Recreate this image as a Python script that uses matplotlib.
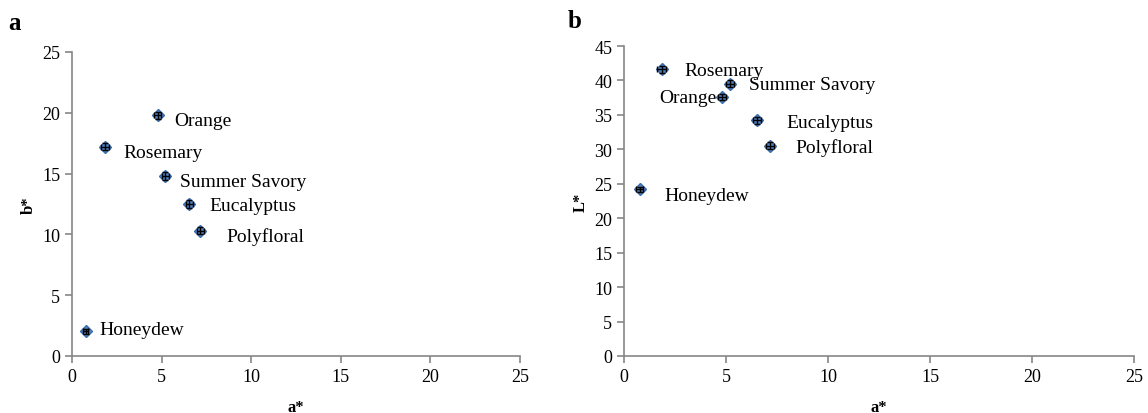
import matplotlib
matplotlib.use("Agg")
import matplotlib.pyplot as plt

plt.rcParams['font.family'] = ['Liberation Serif', 'DejaVu Serif']

honeys = ["Orange", "Rosemary", "Summer Savory", "Eucalyptus", "Polyfloral", "Honeydew"]
a_star = [4.79, 1.84, 5.2, 6.54, 7.15, 0.76]
b_star = [19.8, 17.2, 14.8, 12.5, 10.3, 2.03]
L_star = [37.6, 41.6, 39.5, 34.2, 30.5, 24.2]
a_err = [0.2, 0.2, 0.2, 0.2, 0.2, 0.15]
b_err = [0.3, 0.3, 0.3, 0.3, 0.3, 0.2]
L_err = [0.5, 0.5, 0.5, 0.5, 0.5, 0.4]

# label offsets in pixels (dx, dy) relative to points, per panel
off_a = {"Orange": (16, -5), "Rosemary": (18, -6), "Summer Savory": (15, -5),
         "Eucalyptus": (20, -2), "Polyfloral": (26, -5), "Honeydew": (14, 2)}
off_b = {"Orange": (-5, -1), "Rosemary": (23, -1), "Summer Savory": (19, -1),
         "Eucalyptus": (29, -2), "Polyfloral": (26, -1), "Honeydew": (25, -6)}

W, H = 1148, 414
fig = plt.figure(figsize=(W / 100, H / 100), dpi=100)

ax1 = fig.add_axes([72 / W, (H - 357) / H, (520 - 72) / W, (357 - 53) / H])
ax2 = fig.add_axes([624 / W, (H - 357) / H, (1134 - 624) / W, (357 - 47) / H])

grey = '#868686'
fs = 13

def style(ax, ymax, ystep):
    ax.set_xlim(0, 25)
    ax.set_ylim(0, ymax)
    ax.set_xticks(range(0, 26, 5))
    ax.set_yticks(range(0, ymax + 1, ystep))
    for s in ['top', 'right']:
        ax.spines[s].set_visible(False)
    for s in ['left', 'bottom']:
        ax.spines[s].set_color(grey)
        ax.spines[s].set_linewidth(1.2)
    ax.tick_params(direction='out', color=grey, width=1.2, length=5,
                   labelsize=fs, labelcolor='black')

def draw(ax, ys, yerr, offs):
    ax.plot(a_star, ys, 'D', ms=6.5, mfc='#4F81BD', mec='#3A6EAD', mew=1.0,
            zorder=3, clip_on=False)
    ax.errorbar(a_star, ys, xerr=a_err, yerr=yerr, fmt='none',
                ecolor='black', elinewidth=1.0, capsize=2.2, capthick=1.0,
                zorder=4, clip_on=False)
    for name, x, y in zip(honeys, a_star, ys):
        dx, dy = offs[name]
        ha = 'right' if dx < 0 else 'left'
        ax.annotate(name, (x, y), xytext=(dx, dy), textcoords='offset pixels',
                    ha=ha, va='center', fontsize=fs + 1)

style(ax1, 25, 5)
style(ax2, 45, 5)
draw(ax1, b_star, b_err, off_a)
draw(ax2, L_star, L_err, off_b)

ax1.set_xlabel('a*', fontsize=12, fontweight='bold', labelpad=10)
ax1.set_ylabel('b*', fontsize=12, fontweight='bold', labelpad=4)
ax2.set_xlabel('a*', fontsize=12, fontweight='bold', labelpad=10)
ax2.set_ylabel('L*', fontsize=12, fontweight='bold', labelpad=4)

fig.text(8 / W, 1 - 24 / H, 'a', fontsize=18, fontweight='bold', va='center', ha='left')
fig.text(568 / W, 1 - 22 / H, 'b', fontsize=18, fontweight='bold', va='center', ha='left')

fig.savefig('out.png', dpi=100)
